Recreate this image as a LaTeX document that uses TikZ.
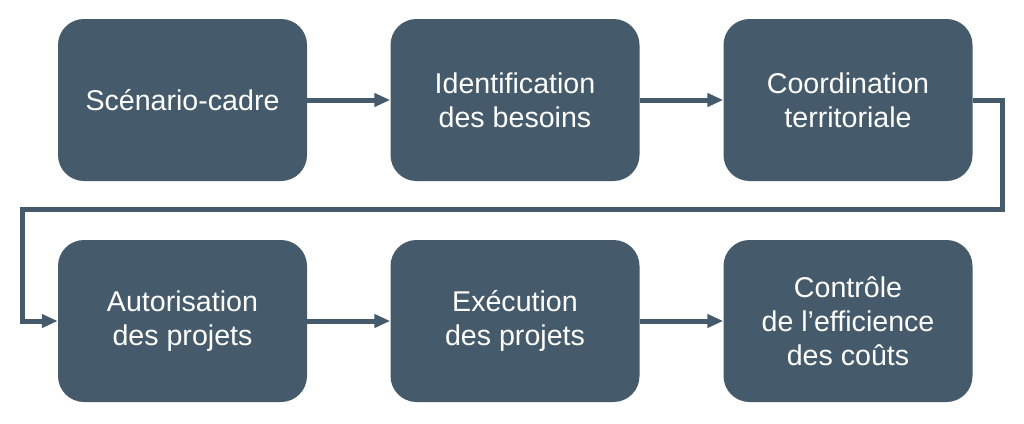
\documentclass[tikz,border=0pt]{standalone}
\usepackage{fontspec}
\setmainfont{Liberation Sans}
\usetikzlibrary{arrows.meta}
\definecolor{boxc}{HTML}{455A6B}
\begin{document}
\begin{tikzpicture}[x=1pt,y=-1pt,
  proc/.style={fill=boxc, draw=none, rounded corners=26pt, minimum width=249pt, minimum height=162pt, inner sep=0pt, text=white, font=\fontsize{28.6}{34}\selectfont, align=center},
  conn/.style={draw=boxc, line width=5pt, -{Triangle[length=16pt,width=13pt]}}]
\useasboundingbox (0,0) rectangle (1024,423);
\fill[white] (0,0) rectangle (1024,423);
\node[proc] (a) at (182.5,100) {Scénario-cadre};
\node[proc] (b) at (515,100) {Identification\\des besoins};
\node[proc] (c) at (848,100) {Coordination\\territoriale};
\node[proc] (d) at (182.5,321) {Autorisation\\des projets};
\node[proc] (e) at (515,321) {Exécution\\des projets};
\node[proc] (f) at (848,321) {Contrôle\\de l’efficience\\des coûts};
\draw[conn] (a) -- (b);
\draw[conn] (b) -- (c);
\draw[conn] (d) -- (e);
\draw[conn] (e) -- (f);
\draw[conn] (c.east) -- (1002,100) -- (1002,209.5) -- (22,209.5) -- (22,321) -- (d.west);
\end{tikzpicture}
\end{document}
